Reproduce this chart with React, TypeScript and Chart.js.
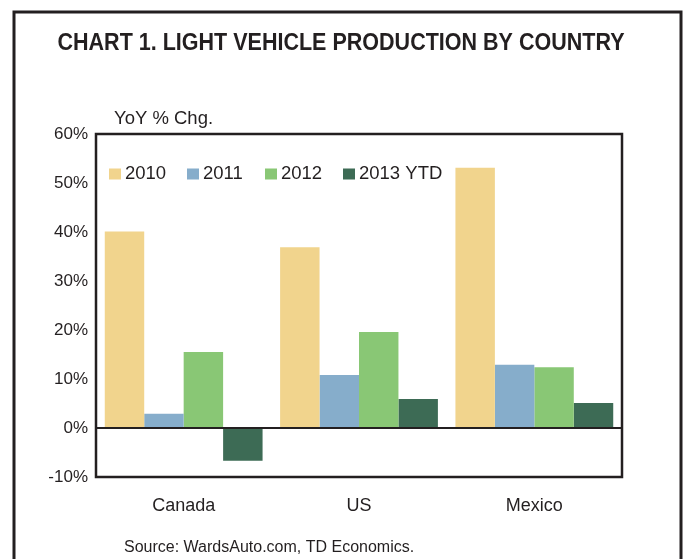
import React, { useEffect, useRef } from "react";
import { Chart, registerables } from "chart.js";

Chart.register(...registerables);

const categories = ["Canada", "US", "Mexico"];
const seriesNames = ["2010", "2011", "2012", "2013 YTD"];
const values2010 = [40.1, 36.9, 53.1];
const values2011 = [2.9, 10.8, 12.9];
const values2012 = [15.5, 19.6, 12.4];
const values2013 = [-6.7, 5.9, 5.1];
const seriesColors = ["#F1D48D", "#86ADCB", "#89C775", "#3D6B55"];
const yMin = -10;
const yMax = 60;
const yStep = 10;
const titleText = "CHART 1. LIGHT VEHICLE PRODUCTION BY COUNTRY";
const axisTitle = "YoY % Chg.";
const sourceText = "Source: WardsAuto.com, TD Economics.";

const INK = "#231F20";
const FONT = "Arial, 'Liberation Sans', Helvetica, sans-serif";

export default function App() {
  const ref = useRef<HTMLCanvasElement | null>(null);
  useEffect(() => {
    if (!ref.current) return;
    const decor = {
      id: "decor",
      beforeDraw(chart: any) {
        const ctx = chart.ctx;
        ctx.save();
        ctx.fillStyle = "#fff";
        ctx.fillRect(0, 0, chart.width, chart.height);
        ctx.strokeStyle = INK;
        ctx.lineWidth = 3;
        ctx.strokeRect(14, 12, 667, 620);
        ctx.fillStyle = INK;
        ctx.textBaseline = "middle";
        ctx.textAlign = "center";
        ctx.font = `bold 23px ${FONT}`;
        const w = ctx.measureText(titleText).width;
        const sx = 567 / w;
        ctx.save();
        ctx.translate(341, 44);
        ctx.scale(sx, 1);
        ctx.fillText(titleText, 0, 0);
        ctx.restore();
        ctx.textAlign = "left";
        ctx.font = `18.5px ${FONT}`;
        ctx.fillText(axisTitle, 114, 119);
        ctx.font = `16px ${FONT}`;
        ctx.fillText(sourceText, 124, 548);
        ctx.restore();
      },
      afterDatasetsDraw(chart: any) {
        const ctx = chart.ctx;
        const a = chart.chartArea;
        const y0 = chart.scales.y.getPixelForValue(0);
        ctx.save();
        ctx.strokeStyle = INK;
        ctx.lineWidth = 2;
        ctx.beginPath();
        ctx.moveTo(a.left, y0);
        ctx.lineTo(a.right, y0);
        ctx.stroke();
        ctx.lineWidth = 2.5;
        ctx.strokeRect(a.left, a.top, a.right - a.left, a.bottom - a.top);
        // legend
        ctx.font = `18.5px ${FONT}`;
        ctx.textBaseline = "middle";
        ctx.textAlign = "left";
        const ly = a.top + 40;
        let lx = a.left + 13;
        seriesNames.forEach((n, i) => {
          ctx.fillStyle = seriesColors[i];
          ctx.fillRect(lx, ly - 5.5, 12, 11);
          ctx.fillStyle = INK;
          ctx.fillText(n, lx + 16, ly);
          lx += 78;
        });
        ctx.restore();
      },
    };
    const datasets = [values2010, values2011, values2012, values2013].map((d, i) => ({
      label: seriesNames[i],
      data: d,
      backgroundColor: seriesColors[i],
      borderWidth: 0,
      categoryPercentage: 0.9,
      barPercentage: 1.0,
    }));
    const chart = new Chart(ref.current, {
      type: "bar",
      data: { labels: categories, datasets },
      options: {
        animation: false,
        responsive: false,
        layout: { padding: { top: 134, right: 61, left: 0, bottom: 0 } },
        plugins: { legend: { display: false }, title: { display: false }, tooltip: { enabled: false } },
        scales: {
          x: {
            grid: { display: false, drawTicks: false },
            border: { display: false },
            ticks: { color: INK, font: { family: FONT, size: 18 }, padding: 18 },
            afterFit(s: any) { s.height = 82; },
          },
          y: {
            min: yMin,
            max: yMax,
            grid: { display: false, drawTicks: false },
            border: { display: false },
            ticks: {
              stepSize: yStep,
              color: INK,
              font: { family: FONT, size: 17 },
              padding: 8,
              callback: (v: any) => `${v}%`,
            },
            afterFit(s: any) { s.width = 96; },
          },
        },
      },
      plugins: [decor],
    });
    return () => chart.destroy();
  }, []);
  return (
    <div style={{ position: "fixed", left: 0, top: 0, width: 683, height: 559, background: "#fff" }}>
      <canvas ref={ref} width={683} height={559} />
    </div>
  );
}
